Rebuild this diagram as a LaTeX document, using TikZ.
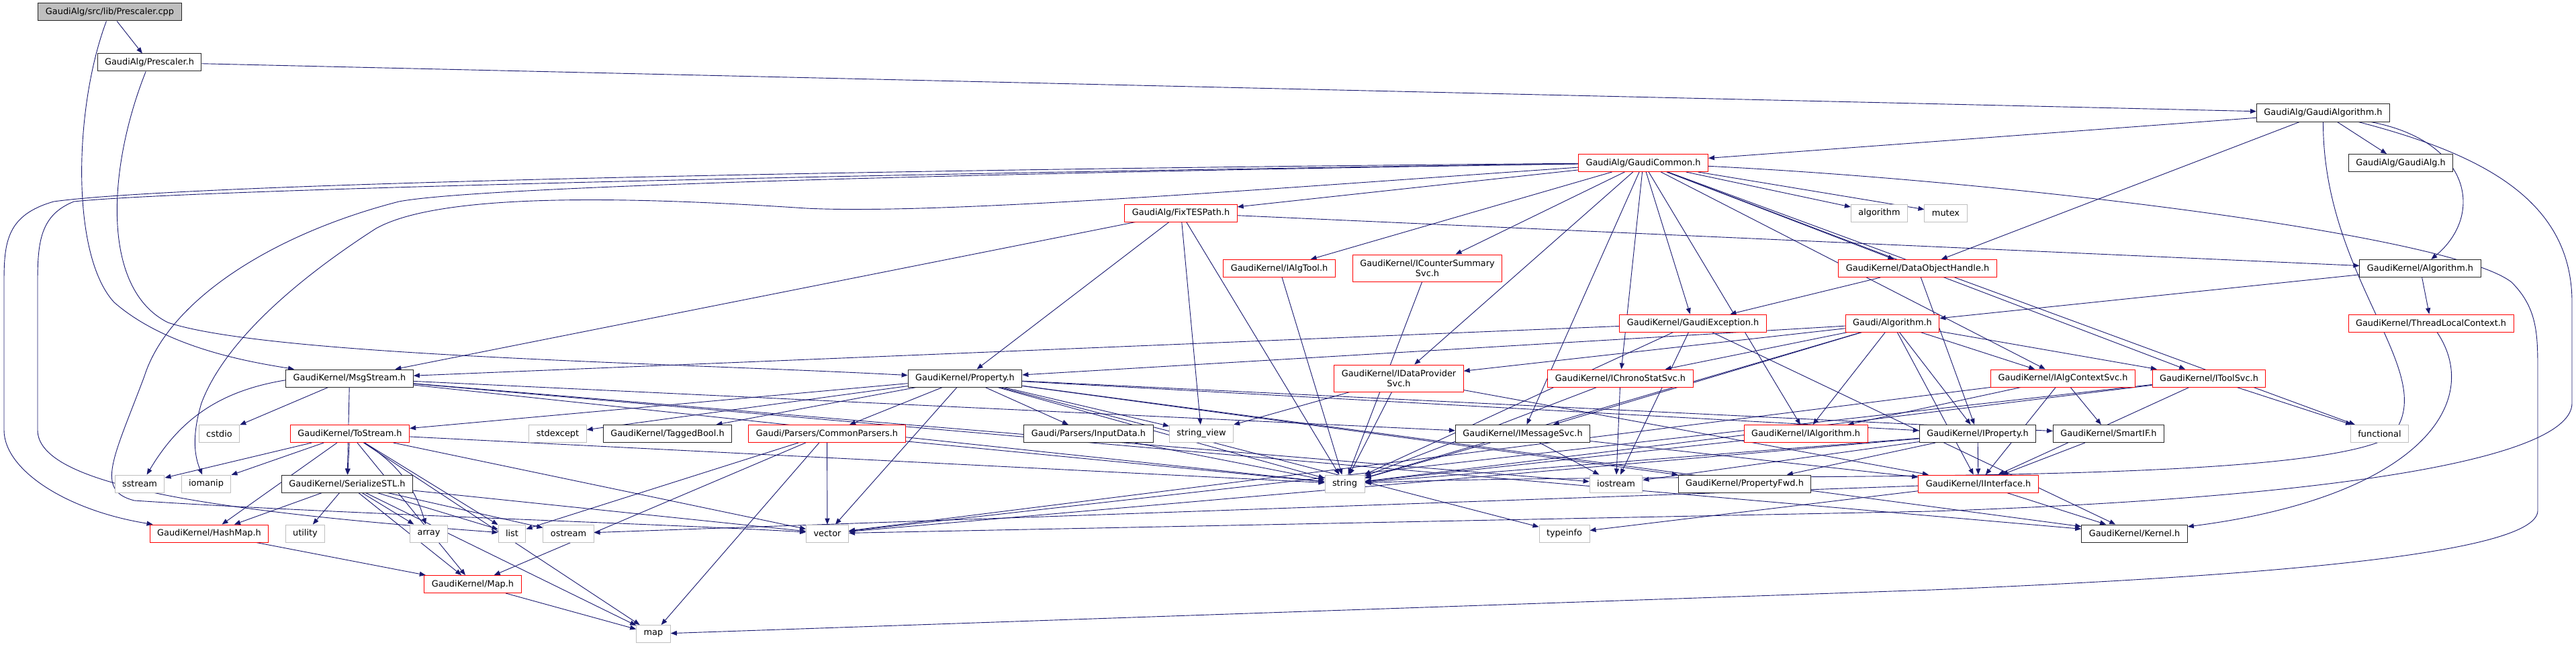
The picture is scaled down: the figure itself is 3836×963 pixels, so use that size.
\documentclass[tikz,border=0pt]{standalone}
\usepackage{fontspec}
\setmainfont{DejaVu Sans}
\usepackage{tikz}
\usetikzlibrary{arrows.meta,backgrounds}
\definecolor{incblue}{HTML}{191970}
\definecolor{sysgray}{HTML}{BFBFBF}

\begin{document}
\begin{tikzpicture}[x=1pt, y=-1pt, >={Triangle[length=9pt,width=7pt]},
    hbox/.style={draw, fill=white, line width=1pt, minimum height=26pt,
        inner xsep=11pt, inner ysep=0pt, align=center,
        font=\fontsize{12.9}{15}\selectfont},
    hfile/.style={hbox, draw=black!85},
    htrunc/.style={hbox, draw=red},
    hsys/.style={hbox, draw=sysgray},
    hroot/.style={hbox, draw=black!85, fill=sysgray},
    inc/.style={->, draw=incblue, line width=0.9pt}]
    \useasboundingbox (0,0) rectangle (3836,963);

    % Top of the include tree
    \node[hroot] (cpp) at (163.5,18) {GaudiAlg/src/lib/Prescaler.cpp};
    \node[hfile] (presh) at (222.5,93) {GaudiAlg/Prescaler.h};
    \node[hfile] (galgo) at (3459.5,168) {GaudiAlg/GaudiAlgorithm.h};
    \node[htrunc] (gcommon) at (2447,242.5) {GaudiAlg/GaudiCommon.h};
    \node[hfile] (galg) at (3575,242.5) {GaudiAlg/GaudiAlg.h};

    % Rows 4 and 5
    \node[htrunc] (fixtes) at (1758.5,317) {GaudiAlg/FixTESPath.h};
    \node[hsys] (algorithm) at (2798.5,317) {algorithm};
    \node[hsys] (mutex) at (2897.5,317) {mutex};
    \node[htrunc] (ialgtool) at (1905,399.5) {GaudiKernel/IAlgTool.h};
    \node[htrunc, minimum height=40pt] (icounter) at (2125.5,399) {GaudiKernel/ICounterSummary\\Svc.h};
    \node[htrunc] (dohandle) at (2855.5,399.5) {GaudiKernel/DataObjectHandle.h};
    \node[hfile] (kalgo) at (3604,399.5) {GaudiKernel/Algorithm.h};
    \node[htrunc] (gexcept) at (2521,481) {GaudiKernel/GaudiException.h};
    \node[htrunc] (gaudialgo) at (2818,481) {Gaudi/Algorithm.h};
    \node[htrunc] (threadlc) at (3620,481) {GaudiKernel/ThreadLocalContext.h};

    % Row 6
    \node[hfile] (msgstream) at (520.5,563) {GaudiKernel/MsgStream.h};
    \node[hfile] (property) at (1437,563) {GaudiKernel/Property.h};
    \node[htrunc, minimum height=40pt] (idataprov) at (2083,563) {GaudiKernel/IDataProvider\\Svc.h};
    \node[htrunc] (ichrono) at (2413,563) {GaudiKernel/IChronoStatSvc.h};
    \node[htrunc] (ialgctx) at (3072,563) {GaudiKernel/IAlgContextSvc.h};
    \node[htrunc] (itoolsvc) at (3289.5,563) {GaudiKernel/IToolSvc.h};

    % Row 7
    \node[hsys] (cstdio) at (326.5,645.5) {cstdio};
    \node[htrunc] (tostream) at (521,645.5) {GaudiKernel/ToStream.h};
    \node[hsys] (stdexcept) at (830.5,645.5) {stdexcept};
    \node[hfile] (taggedbool) at (994,645.5) {GaudiKernel/TaggedBool.h};
    \node[htrunc] (cparsers) at (1231.5,645.5) {Gaudi/Parsers/CommonParsers.h};
    \node[hfile] (inputdata) at (1621,645.5) {Gaudi/Parsers/InputData.h};
    \node[hsys] (strview) at (1789,645.5) {string\_view};
    \node[hfile] (imsgsvc) at (2267.5,645.5) {GaudiKernel/IMessageSvc.h};
    \node[htrunc] (ialgorithm) at (2689,645.5) {GaudiKernel/IAlgorithm.h};
    \node[hfile] (iproperty) at (2945,645.5) {GaudiKernel/IProperty.h};
    \node[hfile] (smartif) at (3140,645.5) {GaudiKernel/SmartIF.h};
    \node[hsys] (functional) at (3543.5,645.5) {functional};

    % Row 8
    \node[hsys] (sstream) at (208,720) {sstream};
    \node[hsys] (iomanip) at (307,720) {iomanip};
    \node[hfile] (serialize) at (517,720) {GaudiKernel/SerializeSTL.h};
    \node[hsys] (string) at (2002.5,720) {string};
    \node[hsys] (iostream) at (2406.5,720) {iostream};
    \node[hfile] (propfwd) at (2598,720) {GaudiKernel/PropertyFwd.h};
    \node[htrunc] (iinterface) at (2946,720) {GaudiKernel/IInterface.h};

    % Rows 9 to 11
    \node[htrunc] (hashmap) at (311.5,794) {GaudiKernel/HashMap.h};
    \node[hsys] (utility) at (454.5,794) {utility};
    \node[hsys] (array) at (638.5,794) {array};
    \node[hsys] (list) at (762.5,794) {list};
    \node[hsys] (ostream) at (846.5,794) {ostream};
    \node[hsys] (vector) at (1232,794) {vector};
    \node[hsys] (typeinfo) at (2329.5,794) {typeinfo};
    \node[hfile] (kernel) at (3178.5,794) {GaudiKernel/Kernel.h};
    \node[htrunc] (maph) at (704,869.5) {GaudiKernel/Map.h};
    \node[hsys] (map) at (973,943.5) {map};

    \begin{scope}[on background layer]
    \fill[white] (0,0) rectangle (3836,963);

    % Straight includes
    \foreach \src/\dst in {cpp/presh, presh/galgo,
        galgo/gcommon, galgo/galg, galgo/dohandle,
        gcommon/fixtes, gcommon/ialgtool, gcommon/icounter, gcommon/idataprov,
        gcommon/imsgsvc, gcommon/ichrono, gcommon/gexcept, gcommon/ialgorithm,
        gcommon/algorithm, gcommon/mutex, gcommon/dohandle, gcommon/ialgctx,
        gcommon/itoolsvc, gcommon/functional,
        fixtes/msgstream, fixtes/property, fixtes/kalgo, fixtes/strview, fixtes/string,
        ialgtool/string, icounter/string,
        dohandle/gexcept, dohandle/iproperty,
        kalgo/gaudialgo, kalgo/threadlc,
        gexcept/msgstream, gexcept/string, gexcept/iostream, gexcept/kernel,
        gaudialgo/property, gaudialgo/idataprov, gaudialgo/ichrono, gaudialgo/imsgsvc,
        gaudialgo/ialgorithm, gaudialgo/iproperty, gaudialgo/ialgctx, gaudialgo/itoolsvc,
        gaudialgo/iinterface, gaudialgo/string,
        msgstream/cstdio, msgstream/serialize, msgstream/imsgsvc,
        msgstream/string, msgstream/iostream, msgstream/kernel,
        property/tostream, property/stdexcept, property/taggedbool, property/cparsers,
        property/inputdata, property/strview, property/string, property/vector,
        property/typeinfo, property/iproperty, property/smartif, property/propfwd,
        property/kernel,
        idataprov/string, idataprov/iinterface, idataprov/strview,
        ichrono/string, ichrono/iostream,
        imsgsvc/string, imsgsvc/iostream, imsgsvc/iinterface,
        ialgorithm/string,
        iproperty/string, iproperty/iostream, iproperty/propfwd, iproperty/iinterface,
        iproperty/vector, smartif/iinterface,
        ialgctx/ialgorithm, ialgctx/smartif, ialgctx/iinterface, ialgctx/vector,
        itoolsvc/functional, itoolsvc/iinterface, itoolsvc/string, itoolsvc/vector,
        iinterface/kernel, iinterface/typeinfo, iinterface/ostream,
        tostream/sstream, tostream/iomanip, tostream/hashmap, tostream/serialize,
        tostream/list, tostream/maph, tostream/map, tostream/vector, tostream/string,
        serialize/hashmap, serialize/utility, serialize/array, serialize/list,
        serialize/ostream, serialize/vector, serialize/maph, serialize/map,
        cparsers/list, cparsers/maph, cparsers/map, cparsers/vector, cparsers/string,
        inputdata/string, hashmap/maph, maph/map}
        \draw[inc] (\src) -- (\dst);

    % Bent includes
    \draw[inc] (msgstream) to[bend right=25] (sstream);
    \draw[inc] (tostream) to[bend left=20] (array);
    \draw[inc] (threadlc) .. controls (3700,600) and (3600,740) .. (kernel);

    % Long routes round the left side
    \draw[inc] (cpp) .. controls (110,160) and (105,380) .. (170,450)
        .. controls (250,520) and (380,540) .. (msgstream);
    \draw[inc] (presh) .. controls (160,250) and (150,430) .. (250,480)
        .. controls (400,530) and (1000,540) .. (property);
    \draw[inc] (gcommon) .. controls (1500,250) and (300,270) .. (80,300)
        .. controls (10,320) and (6,360) .. (6,420) -- (6,640)
        .. controls (6,700) and (100,760) .. (hashmap);
    \draw[inc] (gcommon) .. controls (1500,255) and (300,280) .. (110,300)
        .. controls (60,320) and (56,360) .. (56,420) -- (56,640)
        .. controls (56,720) and (300,760) .. (list);
    \draw[inc] (gcommon) .. controls (1300,260) and (700,280) .. (594,300)
        .. controls (400,350) and (250,450) .. (215,560)
        .. controls (170,680) and (140,730) .. (200,745)
        .. controls (500,765) and (1000,780) .. (vector);
    \draw[inc] (gcommon) .. controls (1900,280) and (1400,320) .. (1200,310)
        .. controls (900,290) and (650,290) .. (560,340)
        .. controls (420,430) and (330,520) .. (300,600)
        .. controls (285,650) and (290,680) .. (iomanip);

    % Long routes round the right side
    \draw[inc] (galgo) .. controls (3680,210) and (3700,320) .. (kalgo);
    \draw[inc] (galgo) .. controls (3459,420) and (3640,560) .. (3560,650)
        .. controls (3420,730) and (2500,700) .. (string);
    \draw[inc] (galgo) .. controls (3700,230) and (3830,300) .. (3830,450) -- (3830,600)
        .. controls (3830,680) and (3500,740) .. (2876,761) -- (vector);
    \draw[inc] (gcommon) .. controls (3000,270) and (3650,350) .. (3740,420)
        .. controls (3780,460) and (3779,500) .. (3779,560) -- (3779,760)
        .. controls (3779,830) and (3300,860) .. (2876,878) -- (map);
    \end{scope}
\end{tikzpicture}
\end{document}
